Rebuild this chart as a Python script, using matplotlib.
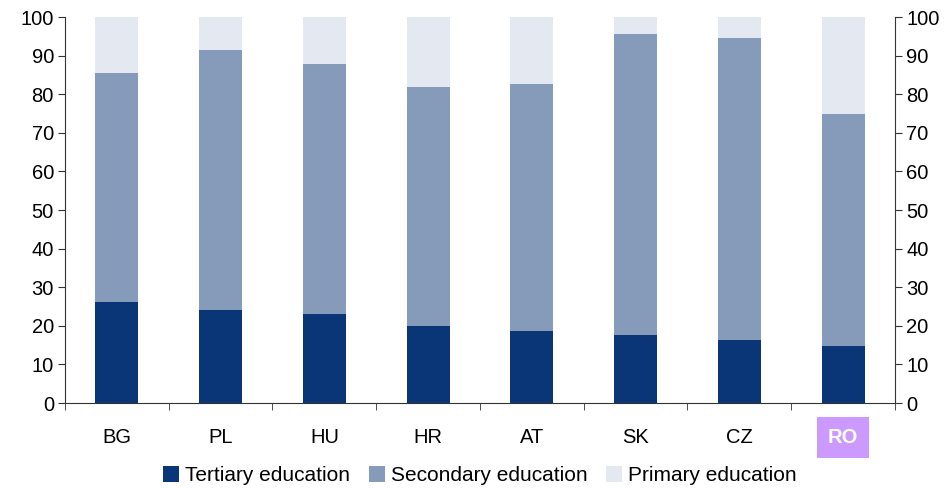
import numpy as np
import matplotlib.pyplot as plt

plt.rcParams['font.family'] = ['Liberation Sans', 'DejaVu Sans']

countries = ["BG", "PL", "HU", "HR", "AT", "SK", "CZ", "RO"]
tertiary = [26.2, 24.1, 23.0, 19.9, 18.6, 17.6, 16.3, 14.8]
secondary = [59.3, 67.4, 64.8, 62.0, 64.0, 78.0, 78.3, 60.1]
primary = [14.5, 8.5, 12.2, 18.1, 17.4, 4.4, 5.4, 25.1]

c_ter = "#0a3678"
c_sec = "#869bba"
c_pri = "#e4e9f1"

fig = plt.figure(figsize=(9.49, 4.88), dpi=100)
ax = fig.add_axes([0.0685, 0.174, 0.8745, 0.791])

x = np.arange(len(countries))
w = 0.415
ter = np.array(tertiary)
sec = np.array(secondary)
pri = np.array(primary)
ax.bar(x, ter, w, color=c_ter, label="Tertiary education")
ax.bar(x, sec, w, bottom=ter, color=c_sec, label="Secondary education")
ax.bar(x, pri, w, bottom=ter + sec, color=c_pri, label="Primary education")

ax.set_xlim(-0.5, len(countries) - 0.5)
ax.set_ylim(0, 100)
ax.set_yticks(range(0, 101, 10))
ax.set_xticks(x)
ax.set_xticks(np.arange(-0.5, len(countries)), minor=True)
ax.set_xticklabels(countries)
ax.tick_params(axis="x", which="major", length=0, pad=18, labelsize=14.5)
ax.tick_params(axis="x", which="minor", length=5, direction="out", color="#333333")
ax.tick_params(axis="y", which="major", length=5, direction="out", labelsize=14.5,
               right=True, labelright=True, color="#333333", pad=3)
for s in ["left", "right", "bottom"]:
    ax.spines[s].set_color("#333333")
ax.spines["top"].set_visible(False)

# highlighted category label
lab = ax.get_xticklabels()[-1]
lab.set_color("white")
lab.set_fontweight("bold")
lab.set_bbox(dict(facecolor="#cc99ff", edgecolor="none", pad=8))

ax.legend(loc="upper center", bbox_to_anchor=(0.5, -0.142), ncol=3, frameon=False,
          fontsize=15, handlelength=0.75, handleheight=0.75, handletextpad=0.3,
          columnspacing=0.9, borderaxespad=0)

fig.savefig("out.png", dpi=100)
